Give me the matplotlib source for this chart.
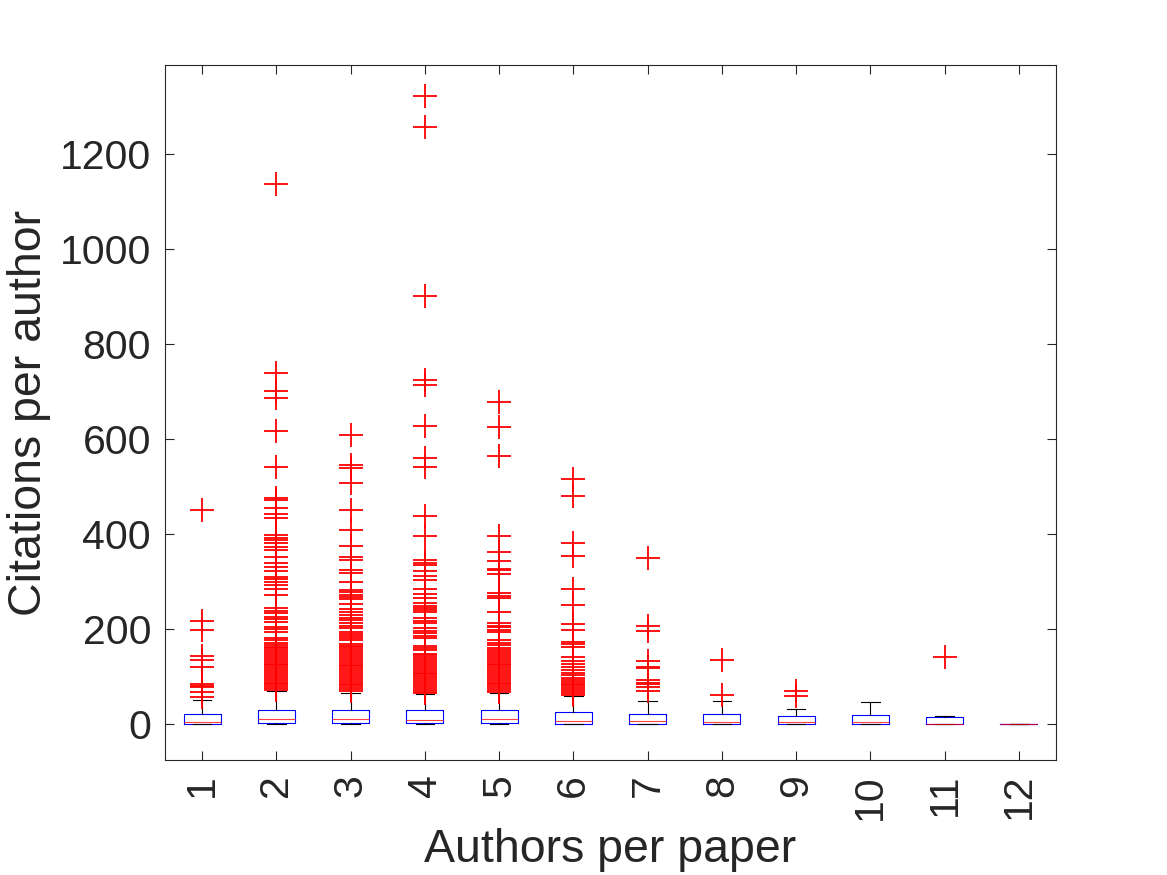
import matplotlib
matplotlib.use("Agg")
import matplotlib.pyplot as plt

plt.rcParams['font.family'] = ['Liberation Sans', 'DejaVu Sans']

groups = [str(i) for i in range(1, 13)]

# box statistics (citations per author)
q1 = [0.6, 2, 2, 2, 2, 0.6, 1, 0.5, 0.5, 0.5, 0.3, 0.5]
medians = [4, 10.5, 10.5, 9, 10.5, 7.5, 6.3, 4, 5, 5, 1.3, 0.5]
q3 = [21.7, 31, 30, 29.5, 30, 25, 21, 21, 17.5, 20, 15, 0.5]
whislo = [0, 0, 0, 0, 0, 0, 0, 0, 0, 0, 0, 0]
whishi = [52, 70, 67, 64, 65, 60, 50, 49, 33, 48, 17.5, 1]

fliers_1 = [451, 217, 199, 143, 136, 120, 84, 80, 78, 69, 57]
fliers_2 = [1137, 739, 702, 686, 618, 542, 476, 472, 455, 442, 434, 398, 393,
            388, 382, 374, 368, 353, 340, 332, 323, 311, 306, 300, 293, 284,
            272, 244, 239, 234, 227, 222, 216, 205, 200, 195, 181, 177, 172,
            167, 163, 160, 156, 152, 148, 144, 140, 136, 132, 128, 124, 120,
            116, 112, 108, 104, 100, 96, 92, 88, 84, 80, 76, 72]
fliers_3 = [610, 547, 540, 509, 451, 409, 376, 353, 347, 326, 318, 299, 283,
            278, 273, 268, 263, 253, 243, 237, 230, 224, 219, 214, 208, 203,
            195, 190, 185, 181, 177, 170, 166, 162, 158, 154, 150, 146, 142,
            138, 134, 130, 126, 122, 118, 114, 110, 106, 102, 98, 94, 90, 86,
            82, 78, 74, 70]
fliers_4 = [1322, 1257, 902, 725, 714, 629, 560, 541, 438, 397, 346, 340, 335,
            323, 312, 304, 284, 274, 265, 255, 250, 246, 241, 237, 223, 218,
            213, 202, 197, 192, 186, 181, 165, 160, 156, 149, 145, 141, 137,
            133, 129, 125, 121, 117, 113, 109, 105, 101, 97, 93, 89, 85, 81,
            77, 73, 69, 67]
fliers_5 = [679, 626, 564, 397, 362, 344, 328, 325, 316, 276, 270, 265, 237,
            213, 208, 204, 199, 195, 177, 172, 167, 160, 156, 152, 148, 144,
            140, 136, 132, 128, 124, 120, 116, 112, 108, 104, 100, 96, 92, 88,
            84, 80, 76, 72, 68]
fliers_6 = [517, 480, 382, 354, 285, 251, 211, 198, 174, 170, 163, 141, 134,
            128, 121, 114, 109, 104, 98, 94, 90, 86, 82, 78, 74, 70, 66, 62]
fliers_7 = [350, 207, 196, 134, 121, 118, 94, 88, 84, 79, 70]
fliers_8 = [136, 62]
fliers_9 = [71, 59]
fliers_10 = []
fliers_11 = [142]
fliers_12 = []
fliers = [fliers_1, fliers_2, fliers_3, fliers_4, fliers_5, fliers_6,
          fliers_7, fliers_8, fliers_9, fliers_10, fliers_11, fliers_12]

stats = []
for i in range(len(groups)):
    stats.append(dict(label=groups[i], q1=q1[i], med=medians[i], q3=q3[i],
                      whislo=whislo[i], whishi=whishi[i], fliers=fliers[i]))

fig = plt.figure(figsize=(11.67, 8.75), dpi=100)
ax = fig.add_axes([165/1167, 1-760/875, (1056-165)/1167, (760-65)/875])

ax.bxp(stats, positions=range(1, 13), widths=0.5, capwidths=0.25,
       boxprops=dict(color='blue', linewidth=0.8),
       medianprops=dict(color='red', linewidth=0.8, alpha=0.75),
       whiskerprops=dict(color='black', linewidth=0.8),
       capprops=dict(color='black', linewidth=0.8),
       flierprops=dict(marker='+', markeredgecolor='red', markersize=17,
                       markeredgewidth=1.3, linestyle='none'))

ax.set_xlim(0.5, 12.5)
ax.set_ylim(-75, 1388)
ax.set_yticks([0, 200, 400, 600, 800, 1000, 1200])
ax.set_xticks(range(1, 13))
ax.set_xticklabels(groups, rotation=90)

dark = '#262626'
for s in ax.spines.values():
    s.set_color(dark)
    s.set_linewidth(0.8)
ax.tick_params(direction='in', length=6.5, width=0.8, color=dark,
               labelcolor=dark, labelsize=29.5, top=True, right=True, pad=10)
ax.set_xlabel('Authors per paper', fontsize=33.5, color=dark, labelpad=6)
ax.set_ylabel('Citations per author', fontsize=33.5, color=dark, labelpad=6)

fig.savefig('out.png', dpi=100)
